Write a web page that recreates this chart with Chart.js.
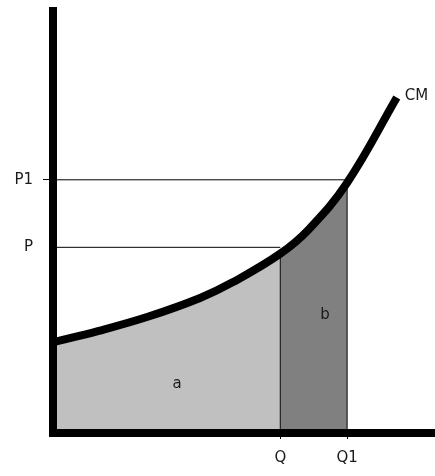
<!DOCTYPE html>
<html>
<head>
<meta charset="utf-8">
<script src="https://cdn.jsdelivr.net/npm/chart.js@4/dist/chart.umd.min.js"></script>
<style>
    html, body { margin: 0; padding: 0; background: #fff; }
    #wrap { width: 435px; height: 476px; position: relative; }
</style>
</head>
<body>
<div id="wrap"><canvas id="cm-chart"></canvas></div>
<script>
// marginal cost curve (CM)
const cmX = [0, 1.2, 2.5, 3.85, 4.7, 5.95, 6.7, 7.7, 9.0];
const cmY = [2.15, 2.42, 2.76, 3.2, 3.57, 4.25, 4.83, 5.93, 7.95];

// quantities and prices marked on the axes
const qValues = [5.95, 7.7];
const qLabels = ["Q", "Q1"];
const pValues = [4.4, 6.0];
const pLabels = ["P", "P1"];

const areaLabels = ["a", "b"];
const curveLabel = "CM";

(function () {
    const FONT = "DejaVu Sans";
    const TEXT = "#1a1a1a";

    function pts(from, to) {
        const out = [];
        for (let i = 0; i < cmX.length; i++) {
            if (cmX[i] >= from && cmX[i] <= to) out.push({ x: cmX[i], y: cmY[i] });
        }
        return out;
    }

    function curveAt(x) {
        const i = cmX.indexOf(x);
        return i >= 0 ? cmY[i] : null;
    }

    const curve = pts(0, 100);
    const areaA = pts(0, qValues[0]);
    const areaB = pts(qValues[0], qValues[1]);

    const thin = { borderColor: "#000", borderWidth: 1, pointRadius: 0, fill: false };

    const datasets = [
        {
            label: curveLabel, data: curve, borderColor: "#000", borderWidth: 8,
            pointRadius: 0, fill: false, tension: 0.4, order: 0
        },
        Object.assign({ data: [{ x: 0, y: pValues[0] }, { x: qValues[0], y: pValues[0] }], order: 1 }, thin),
        Object.assign({ data: [{ x: 0, y: pValues[1] }, { x: qValues[1], y: pValues[1] }], order: 1 }, thin),
        Object.assign({ data: [{ x: qValues[0], y: 0 }, { x: qValues[0], y: curveAt(qValues[0]) }], order: 1 }, thin),
        Object.assign({ data: [{ x: qValues[1], y: 0 }, { x: qValues[1], y: pValues[1] }], order: 1 }, thin),
        {
            data: areaA, borderWidth: 0, pointRadius: 0, fill: "origin",
            backgroundColor: "#c0c0c0", tension: 0.4, order: 2
        },
        {
            data: areaB, borderWidth: 0, pointRadius: 0, fill: "origin",
            backgroundColor: "#808080", tension: 0.4, order: 2
        }
    ];

    // a, b inside the areas and CM at the end of the curve
    const textPlugin = {
        id: "cmText",
        afterDatasetsDraw: function (chart) {
            const c = chart.ctx;
            const xs = chart.scales.x, ys = chart.scales.y;
            c.save();
            c.fillStyle = TEXT;
            c.font = "15px '" + FONT + "'";
            c.textAlign = "center";
            c.textBaseline = "middle";
            c.fillText(areaLabels[0], xs.getPixelForValue(3.25), ys.getPixelForValue(1.15));
            c.fillText(areaLabels[1], xs.getPixelForValue(7.12), ys.getPixelForValue(2.8));
            const n = cmX.length - 1;
            c.textAlign = "left";
            c.fillText(curveLabel, xs.getPixelForValue(cmX[n]) + 8, ys.getPixelForValue(cmY[n]) - 1);
            c.restore();
        }
    };

    new Chart(document.getElementById("cm-chart"), {
        type: "line",
        data: { datasets: datasets },
        options: {
            responsive: true,
            maintainAspectRatio: false,
            animation: false,
            layout: { padding: { top: 11, right: 0, left: 0, bottom: 0 } },
            plugins: { legend: { display: false }, tooltip: { enabled: false } },
            scales: {
                x: {
                    type: "linear", min: 0, max: 10,
                    afterBuildTicks: function (s) { s.ticks = qValues.map(function (v) { return { value: v }; }); },
                    afterFit: function (s) { s.height = 43; s.paddingLeft = 0; s.paddingRight = 0; },
                    ticks: {
                        padding: 10, color: TEXT, font: { family: FONT, size: 15 },
                        maxRotation: 0, autoSkip: false,
                        callback: function (v, i) { return qLabels[i]; }
                    },
                    grid: { display: true, drawOnChartArea: false, drawTicks: true, tickLength: 6, tickColor: "#000", tickWidth: 1, z: 1 },
                    border: { display: true, color: "#000", width: 8, z: 1 }
                },
                y: {
                    type: "linear", min: 0, max: 10,
                    afterBuildTicks: function (s) { s.ticks = pValues.map(function (v) { return { value: v }; }); },
                    afterFit: function (s) { s.width = 53; s.paddingTop = 0; s.paddingBottom = 0; },
                    ticks: {
                        padding: 10, color: TEXT, font: { family: FONT, size: 15 },
                        autoSkip: false,
                        callback: function (v, i) { return pLabels[i]; }
                    },
                    grid: {
                        display: true, drawOnChartArea: false, drawTicks: true, tickLength: 10, tickWidth: 1, z: 1,
                        tickColor: function (ctx) { return ctx.index === 1 ? "#000" : "rgba(0,0,0,0)"; }
                    },
                    border: { display: true, color: "#000", width: 8, z: 1 }
                }
            }
        },
        plugins: [textPlugin]
    });
})();
</script>
</body>
</html>
